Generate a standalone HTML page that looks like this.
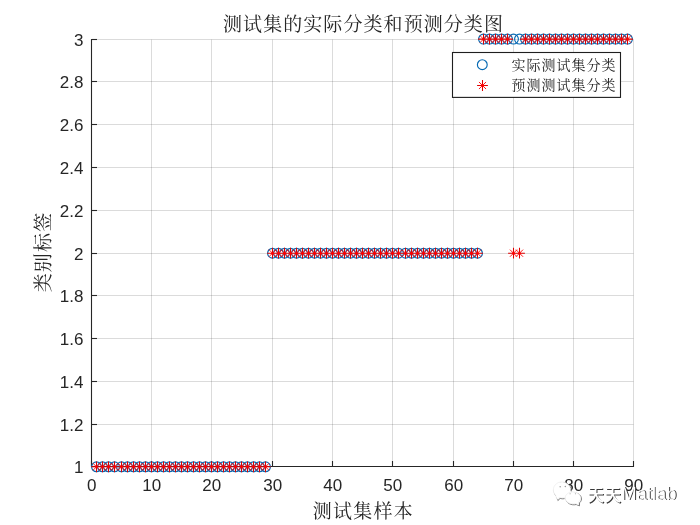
<!DOCTYPE html>
<html lang="zh"><head><meta charset="utf-8"><title>测试集的实际分类和预测分类图</title>
<style>
html,body{margin:0;padding:0;background:#fff;}
body{width:700px;height:525px;overflow:hidden;position:relative;}
svg{display:block;position:absolute;left:0;top:0;}
.cjk{font-family:"Liberation Serif","Noto Serif CJK SC",serif;fill:#262626;}
.num{font-family:"Liberation Sans","Noto Sans CJK SC",sans-serif;fill:#262626;font-size:17px;}
.wm{font-family:"Liberation Sans","Noto Sans CJK SC",sans-serif;font-size:17.1px;fill:#fff;}
</style></head><body>
<svg width="700" height="525" viewBox="0 0 700 525">
<rect width="700" height="525" fill="#fff"/>
<g stroke="#262626" stroke-opacity="0.165" stroke-width="1" fill="none">
<line x1="91.50" y1="39.5" x2="91.50" y2="466.5"/>
<line x1="151.50" y1="39.5" x2="151.50" y2="466.5"/>
<line x1="211.50" y1="39.5" x2="211.50" y2="466.5"/>
<line x1="272.50" y1="39.5" x2="272.50" y2="466.5"/>
<line x1="332.50" y1="39.5" x2="332.50" y2="466.5"/>
<line x1="392.50" y1="39.5" x2="392.50" y2="466.5"/>
<line x1="453.50" y1="39.5" x2="453.50" y2="466.5"/>
<line x1="513.50" y1="39.5" x2="513.50" y2="466.5"/>
<line x1="573.50" y1="39.5" x2="573.50" y2="466.5"/>
<line x1="633.50" y1="39.5" x2="633.50" y2="466.5"/>
<line x1="91.5" y1="466.50" x2="633.5" y2="466.50"/>
<line x1="91.5" y1="424.50" x2="633.5" y2="424.50"/>
<line x1="91.5" y1="381.50" x2="633.5" y2="381.50"/>
<line x1="91.5" y1="338.50" x2="633.5" y2="338.50"/>
<line x1="91.5" y1="295.50" x2="633.5" y2="295.50"/>
<line x1="91.5" y1="253.50" x2="633.5" y2="253.50"/>
<line x1="91.5" y1="210.50" x2="633.5" y2="210.50"/>
<line x1="91.5" y1="167.50" x2="633.5" y2="167.50"/>
<line x1="91.5" y1="124.50" x2="633.5" y2="124.50"/>
<line x1="91.5" y1="81.50" x2="633.5" y2="81.50"/>
<line x1="91.5" y1="39.50" x2="633.5" y2="39.50"/>
</g>
<g stroke="#262626" stroke-width="1.1" fill="none">
<line x1="91.5" y1="38.95" x2="91.5" y2="467.05"/>
<line x1="91.5" y1="466.5" x2="634.05" y2="466.5"/>
<line x1="91.50" y1="466.5" x2="91.50" y2="461.0"/>
<line x1="151.50" y1="466.5" x2="151.50" y2="461.0"/>
<line x1="211.50" y1="466.5" x2="211.50" y2="461.0"/>
<line x1="272.50" y1="466.5" x2="272.50" y2="461.0"/>
<line x1="332.50" y1="466.5" x2="332.50" y2="461.0"/>
<line x1="392.50" y1="466.5" x2="392.50" y2="461.0"/>
<line x1="453.50" y1="466.5" x2="453.50" y2="461.0"/>
<line x1="513.50" y1="466.5" x2="513.50" y2="461.0"/>
<line x1="573.50" y1="466.5" x2="573.50" y2="461.0"/>
<line x1="633.50" y1="466.5" x2="633.50" y2="461.0"/>
<line x1="91.5" y1="466.50" x2="97.0" y2="466.50"/>
<line x1="91.5" y1="424.50" x2="97.0" y2="424.50"/>
<line x1="91.5" y1="381.50" x2="97.0" y2="381.50"/>
<line x1="91.5" y1="338.50" x2="97.0" y2="338.50"/>
<line x1="91.5" y1="295.50" x2="97.0" y2="295.50"/>
<line x1="91.5" y1="253.50" x2="97.0" y2="253.50"/>
<line x1="91.5" y1="210.50" x2="97.0" y2="210.50"/>
<line x1="91.5" y1="167.50" x2="97.0" y2="167.50"/>
<line x1="91.5" y1="124.50" x2="97.0" y2="124.50"/>
<line x1="91.5" y1="81.50" x2="97.0" y2="81.50"/>
<line x1="91.5" y1="39.50" x2="97.0" y2="39.50"/>
</g>
<g class="num" text-anchor="middle">
<text x="91.80" y="491.2">0</text>
<text x="151.80" y="491.2">10</text>
<text x="211.80" y="491.2">20</text>
<text x="272.80" y="491.2">30</text>
<text x="332.80" y="491.2">40</text>
<text x="392.80" y="491.2">50</text>
<text x="453.80" y="491.2">60</text>
<text x="513.80" y="491.2">70</text>
<text x="573.80" y="491.2">80</text>
<text x="633.80" y="491.2">90</text>
</g>
<g class="num" text-anchor="end">
<text x="83.4" y="472.80">1</text>
<text x="83.4" y="430.80">1.2</text>
<text x="83.4" y="387.80">1.4</text>
<text x="83.4" y="344.80">1.6</text>
<text x="83.4" y="301.80">1.8</text>
<text x="83.4" y="259.80">2</text>
<text x="83.4" y="216.80">2.2</text>
<text x="83.4" y="173.80">2.4</text>
<text x="83.4" y="130.80">2.6</text>
<text x="83.4" y="87.80">2.8</text>
<text x="83.4" y="45.80">3</text>
</g>
<g stroke="#0569b3" stroke-width="1.15" fill="none">
<circle cx="96.50" cy="466.80" r="4.9"/>
<circle cx="102.50" cy="466.80" r="4.9"/>
<circle cx="108.50" cy="466.80" r="4.9"/>
<circle cx="114.50" cy="466.80" r="4.9"/>
<circle cx="121.50" cy="466.80" r="4.9"/>
<circle cx="127.50" cy="466.80" r="4.9"/>
<circle cx="133.50" cy="466.80" r="4.9"/>
<circle cx="139.50" cy="466.80" r="4.9"/>
<circle cx="145.50" cy="466.80" r="4.9"/>
<circle cx="151.50" cy="466.80" r="4.9"/>
<circle cx="157.50" cy="466.80" r="4.9"/>
<circle cx="163.50" cy="466.80" r="4.9"/>
<circle cx="169.50" cy="466.80" r="4.9"/>
<circle cx="175.50" cy="466.80" r="4.9"/>
<circle cx="181.50" cy="466.80" r="4.9"/>
<circle cx="187.50" cy="466.80" r="4.9"/>
<circle cx="193.50" cy="466.80" r="4.9"/>
<circle cx="199.50" cy="466.80" r="4.9"/>
<circle cx="205.50" cy="466.80" r="4.9"/>
<circle cx="211.50" cy="466.80" r="4.9"/>
<circle cx="217.50" cy="466.80" r="4.9"/>
<circle cx="223.50" cy="466.80" r="4.9"/>
<circle cx="229.50" cy="466.80" r="4.9"/>
<circle cx="235.50" cy="466.80" r="4.9"/>
<circle cx="241.50" cy="466.80" r="4.9"/>
<circle cx="247.50" cy="466.80" r="4.9"/>
<circle cx="253.50" cy="466.80" r="4.9"/>
<circle cx="259.50" cy="466.80" r="4.9"/>
<circle cx="265.50" cy="466.80" r="4.9"/>
<circle cx="272.50" cy="253.20" r="4.9"/>
<circle cx="278.50" cy="253.20" r="4.9"/>
<circle cx="284.50" cy="253.20" r="4.9"/>
<circle cx="290.50" cy="253.20" r="4.9"/>
<circle cx="296.50" cy="253.20" r="4.9"/>
<circle cx="302.50" cy="253.20" r="4.9"/>
<circle cx="308.50" cy="253.20" r="4.9"/>
<circle cx="314.50" cy="253.20" r="4.9"/>
<circle cx="320.50" cy="253.20" r="4.9"/>
<circle cx="326.50" cy="253.20" r="4.9"/>
<circle cx="332.50" cy="253.20" r="4.9"/>
<circle cx="338.50" cy="253.20" r="4.9"/>
<circle cx="344.50" cy="253.20" r="4.9"/>
<circle cx="350.50" cy="253.20" r="4.9"/>
<circle cx="356.50" cy="253.20" r="4.9"/>
<circle cx="362.50" cy="253.20" r="4.9"/>
<circle cx="368.50" cy="253.20" r="4.9"/>
<circle cx="374.50" cy="253.20" r="4.9"/>
<circle cx="380.50" cy="253.20" r="4.9"/>
<circle cx="386.50" cy="253.20" r="4.9"/>
<circle cx="392.50" cy="253.20" r="4.9"/>
<circle cx="398.50" cy="253.20" r="4.9"/>
<circle cx="405.50" cy="253.20" r="4.9"/>
<circle cx="411.50" cy="253.20" r="4.9"/>
<circle cx="417.50" cy="253.20" r="4.9"/>
<circle cx="423.50" cy="253.20" r="4.9"/>
<circle cx="429.50" cy="253.20" r="4.9"/>
<circle cx="435.50" cy="253.20" r="4.9"/>
<circle cx="441.50" cy="253.20" r="4.9"/>
<circle cx="447.50" cy="253.20" r="4.9"/>
<circle cx="453.50" cy="253.20" r="4.9"/>
<circle cx="459.50" cy="253.20" r="4.9"/>
<circle cx="465.50" cy="253.20" r="4.9"/>
<circle cx="471.50" cy="253.20" r="4.9"/>
<circle cx="477.50" cy="253.20" r="4.9"/>
<circle cx="483.50" cy="39.10" r="4.9"/>
<circle cx="489.50" cy="39.10" r="4.9"/>
<circle cx="495.50" cy="39.10" r="4.9"/>
<circle cx="501.50" cy="39.10" r="4.9"/>
<circle cx="507.50" cy="39.10" r="4.9"/>
<circle cx="513.50" cy="39.10" r="4.9"/>
<circle cx="519.50" cy="39.10" r="4.9"/>
<circle cx="525.50" cy="39.10" r="4.9"/>
<circle cx="531.50" cy="39.10" r="4.9"/>
<circle cx="537.50" cy="39.10" r="4.9"/>
<circle cx="543.50" cy="39.10" r="4.9"/>
<circle cx="549.50" cy="39.10" r="4.9"/>
<circle cx="555.50" cy="39.10" r="4.9"/>
<circle cx="561.50" cy="39.10" r="4.9"/>
<circle cx="567.50" cy="39.10" r="4.9"/>
<circle cx="573.50" cy="39.10" r="4.9"/>
<circle cx="579.50" cy="39.10" r="4.9"/>
<circle cx="585.50" cy="39.10" r="4.9"/>
<circle cx="591.50" cy="39.10" r="4.9"/>
<circle cx="597.50" cy="39.10" r="4.9"/>
<circle cx="603.50" cy="39.10" r="4.9"/>
<circle cx="609.50" cy="39.10" r="4.9"/>
<circle cx="615.50" cy="39.10" r="4.9"/>
<circle cx="621.50" cy="39.10" r="4.9"/>
<circle cx="627.50" cy="39.10" r="4.9"/>
</g>
<path stroke="#e00000" stroke-width="1.05" fill="none" d="
M91.10 466.80H101.90M96.50 461.40V472.20
M97.10 466.80H107.90M102.50 461.40V472.20
M103.10 466.80H113.90M108.50 461.40V472.20
M109.10 466.80H119.90M114.50 461.40V472.20
M116.10 466.80H126.90M121.50 461.40V472.20
M122.10 466.80H132.90M127.50 461.40V472.20
M128.10 466.80H138.90M133.50 461.40V472.20
M134.10 466.80H144.90M139.50 461.40V472.20
M140.10 466.80H150.90M145.50 461.40V472.20
M146.10 466.80H156.90M151.50 461.40V472.20
M152.10 466.80H162.90M157.50 461.40V472.20
M158.10 466.80H168.90M163.50 461.40V472.20
M164.10 466.80H174.90M169.50 461.40V472.20
M170.10 466.80H180.90M175.50 461.40V472.20
M176.10 466.80H186.90M181.50 461.40V472.20
M182.10 466.80H192.90M187.50 461.40V472.20
M188.10 466.80H198.90M193.50 461.40V472.20
M194.10 466.80H204.90M199.50 461.40V472.20
M200.10 466.80H210.90M205.50 461.40V472.20
M206.10 466.80H216.90M211.50 461.40V472.20
M212.10 466.80H222.90M217.50 461.40V472.20
M218.10 466.80H228.90M223.50 461.40V472.20
M224.10 466.80H234.90M229.50 461.40V472.20
M230.10 466.80H240.90M235.50 461.40V472.20
M236.10 466.80H246.90M241.50 461.40V472.20
M242.10 466.80H252.90M247.50 461.40V472.20
M248.10 466.80H258.90M253.50 461.40V472.20
M254.10 466.80H264.90M259.50 461.40V472.20
M260.10 466.80H270.90M265.50 461.40V472.20
M267.10 253.20H277.90M272.50 247.80V258.60
M273.10 253.20H283.90M278.50 247.80V258.60
M279.10 253.20H289.90M284.50 247.80V258.60
M285.10 253.20H295.90M290.50 247.80V258.60
M291.10 253.20H301.90M296.50 247.80V258.60
M297.10 253.20H307.90M302.50 247.80V258.60
M303.10 253.20H313.90M308.50 247.80V258.60
M309.10 253.20H319.90M314.50 247.80V258.60
M315.10 253.20H325.90M320.50 247.80V258.60
M321.10 253.20H331.90M326.50 247.80V258.60
M327.10 253.20H337.90M332.50 247.80V258.60
M333.10 253.20H343.90M338.50 247.80V258.60
M339.10 253.20H349.90M344.50 247.80V258.60
M345.10 253.20H355.90M350.50 247.80V258.60
M351.10 253.20H361.90M356.50 247.80V258.60
M357.10 253.20H367.90M362.50 247.80V258.60
M363.10 253.20H373.90M368.50 247.80V258.60
M369.10 253.20H379.90M374.50 247.80V258.60
M375.10 253.20H385.90M380.50 247.80V258.60
M381.10 253.20H391.90M386.50 247.80V258.60
M387.10 253.20H397.90M392.50 247.80V258.60
M393.10 253.20H403.90M398.50 247.80V258.60
M400.10 253.20H410.90M405.50 247.80V258.60
M406.10 253.20H416.90M411.50 247.80V258.60
M412.10 253.20H422.90M417.50 247.80V258.60
M418.10 253.20H428.90M423.50 247.80V258.60
M424.10 253.20H434.90M429.50 247.80V258.60
M430.10 253.20H440.90M435.50 247.80V258.60
M436.10 253.20H446.90M441.50 247.80V258.60
M442.10 253.20H452.90M447.50 247.80V258.60
M448.10 253.20H458.90M453.50 247.80V258.60
M454.10 253.20H464.90M459.50 247.80V258.60
M460.10 253.20H470.90M465.50 247.80V258.60
M466.10 253.20H476.90M471.50 247.80V258.60
M472.10 253.20H482.90M477.50 247.80V258.60
M478.10 39.10H488.90M483.50 33.70V44.50
M484.10 39.10H494.90M489.50 33.70V44.50
M490.10 39.10H500.90M495.50 33.70V44.50
M496.10 39.10H506.90M501.50 33.70V44.50
M502.10 39.10H512.90M507.50 33.70V44.50
M508.10 253.20H518.90M513.50 247.80V258.60
M514.10 253.20H524.90M519.50 247.80V258.60
M520.10 39.10H530.90M525.50 33.70V44.50
M526.10 39.10H536.90M531.50 33.70V44.50
M532.10 39.10H542.90M537.50 33.70V44.50
M538.10 39.10H548.90M543.50 33.70V44.50
M544.10 39.10H554.90M549.50 33.70V44.50
M550.10 39.10H560.90M555.50 33.70V44.50
M556.10 39.10H566.90M561.50 33.70V44.50
M562.10 39.10H572.90M567.50 33.70V44.50
M568.10 39.10H578.90M573.50 33.70V44.50
M574.10 39.10H584.90M579.50 33.70V44.50
M580.10 39.10H590.90M585.50 33.70V44.50
M586.10 39.10H596.90M591.50 33.70V44.50
M592.10 39.10H602.90M597.50 33.70V44.50
M598.10 39.10H608.90M603.50 33.70V44.50
M604.10 39.10H614.90M609.50 33.70V44.50
M610.10 39.10H620.90M615.50 33.70V44.50
M616.10 39.10H626.90M621.50 33.70V44.50
M622.10 39.10H632.90M627.50 33.70V44.50
"/>
<path stroke="#ff0000" stroke-width="0.9" fill="none" d="
M92.94 463.24L100.06 470.36M92.94 470.36L100.06 463.24
M98.94 463.24L106.06 470.36M98.94 470.36L106.06 463.24
M104.94 463.24L112.06 470.36M104.94 470.36L112.06 463.24
M110.94 463.24L118.06 470.36M110.94 470.36L118.06 463.24
M117.94 463.24L125.06 470.36M117.94 470.36L125.06 463.24
M123.94 463.24L131.06 470.36M123.94 470.36L131.06 463.24
M129.94 463.24L137.06 470.36M129.94 470.36L137.06 463.24
M135.94 463.24L143.06 470.36M135.94 470.36L143.06 463.24
M141.94 463.24L149.06 470.36M141.94 470.36L149.06 463.24
M147.94 463.24L155.06 470.36M147.94 470.36L155.06 463.24
M153.94 463.24L161.06 470.36M153.94 470.36L161.06 463.24
M159.94 463.24L167.06 470.36M159.94 470.36L167.06 463.24
M165.94 463.24L173.06 470.36M165.94 470.36L173.06 463.24
M171.94 463.24L179.06 470.36M171.94 470.36L179.06 463.24
M177.94 463.24L185.06 470.36M177.94 470.36L185.06 463.24
M183.94 463.24L191.06 470.36M183.94 470.36L191.06 463.24
M189.94 463.24L197.06 470.36M189.94 470.36L197.06 463.24
M195.94 463.24L203.06 470.36M195.94 470.36L203.06 463.24
M201.94 463.24L209.06 470.36M201.94 470.36L209.06 463.24
M207.94 463.24L215.06 470.36M207.94 470.36L215.06 463.24
M213.94 463.24L221.06 470.36M213.94 470.36L221.06 463.24
M219.94 463.24L227.06 470.36M219.94 470.36L227.06 463.24
M225.94 463.24L233.06 470.36M225.94 470.36L233.06 463.24
M231.94 463.24L239.06 470.36M231.94 470.36L239.06 463.24
M237.94 463.24L245.06 470.36M237.94 470.36L245.06 463.24
M243.94 463.24L251.06 470.36M243.94 470.36L251.06 463.24
M249.94 463.24L257.06 470.36M249.94 470.36L257.06 463.24
M255.94 463.24L263.06 470.36M255.94 470.36L263.06 463.24
M261.94 463.24L269.06 470.36M261.94 470.36L269.06 463.24
M268.94 249.64L276.06 256.76M268.94 256.76L276.06 249.64
M274.94 249.64L282.06 256.76M274.94 256.76L282.06 249.64
M280.94 249.64L288.06 256.76M280.94 256.76L288.06 249.64
M286.94 249.64L294.06 256.76M286.94 256.76L294.06 249.64
M292.94 249.64L300.06 256.76M292.94 256.76L300.06 249.64
M298.94 249.64L306.06 256.76M298.94 256.76L306.06 249.64
M304.94 249.64L312.06 256.76M304.94 256.76L312.06 249.64
M310.94 249.64L318.06 256.76M310.94 256.76L318.06 249.64
M316.94 249.64L324.06 256.76M316.94 256.76L324.06 249.64
M322.94 249.64L330.06 256.76M322.94 256.76L330.06 249.64
M328.94 249.64L336.06 256.76M328.94 256.76L336.06 249.64
M334.94 249.64L342.06 256.76M334.94 256.76L342.06 249.64
M340.94 249.64L348.06 256.76M340.94 256.76L348.06 249.64
M346.94 249.64L354.06 256.76M346.94 256.76L354.06 249.64
M352.94 249.64L360.06 256.76M352.94 256.76L360.06 249.64
M358.94 249.64L366.06 256.76M358.94 256.76L366.06 249.64
M364.94 249.64L372.06 256.76M364.94 256.76L372.06 249.64
M370.94 249.64L378.06 256.76M370.94 256.76L378.06 249.64
M376.94 249.64L384.06 256.76M376.94 256.76L384.06 249.64
M382.94 249.64L390.06 256.76M382.94 256.76L390.06 249.64
M388.94 249.64L396.06 256.76M388.94 256.76L396.06 249.64
M394.94 249.64L402.06 256.76M394.94 256.76L402.06 249.64
M401.94 249.64L409.06 256.76M401.94 256.76L409.06 249.64
M407.94 249.64L415.06 256.76M407.94 256.76L415.06 249.64
M413.94 249.64L421.06 256.76M413.94 256.76L421.06 249.64
M419.94 249.64L427.06 256.76M419.94 256.76L427.06 249.64
M425.94 249.64L433.06 256.76M425.94 256.76L433.06 249.64
M431.94 249.64L439.06 256.76M431.94 256.76L439.06 249.64
M437.94 249.64L445.06 256.76M437.94 256.76L445.06 249.64
M443.94 249.64L451.06 256.76M443.94 256.76L451.06 249.64
M449.94 249.64L457.06 256.76M449.94 256.76L457.06 249.64
M455.94 249.64L463.06 256.76M455.94 256.76L463.06 249.64
M461.94 249.64L469.06 256.76M461.94 256.76L469.06 249.64
M467.94 249.64L475.06 256.76M467.94 256.76L475.06 249.64
M473.94 249.64L481.06 256.76M473.94 256.76L481.06 249.64
M479.94 35.54L487.06 42.66M479.94 42.66L487.06 35.54
M485.94 35.54L493.06 42.66M485.94 42.66L493.06 35.54
M491.94 35.54L499.06 42.66M491.94 42.66L499.06 35.54
M497.94 35.54L505.06 42.66M497.94 42.66L505.06 35.54
M503.94 35.54L511.06 42.66M503.94 42.66L511.06 35.54
M509.94 249.64L517.06 256.76M509.94 256.76L517.06 249.64
M515.94 249.64L523.06 256.76M515.94 256.76L523.06 249.64
M521.94 35.54L529.06 42.66M521.94 42.66L529.06 35.54
M527.94 35.54L535.06 42.66M527.94 42.66L535.06 35.54
M533.94 35.54L541.06 42.66M533.94 42.66L541.06 35.54
M539.94 35.54L547.06 42.66M539.94 42.66L547.06 35.54
M545.94 35.54L553.06 42.66M545.94 42.66L553.06 35.54
M551.94 35.54L559.06 42.66M551.94 42.66L559.06 35.54
M557.94 35.54L565.06 42.66M557.94 42.66L565.06 35.54
M563.94 35.54L571.06 42.66M563.94 42.66L571.06 35.54
M569.94 35.54L577.06 42.66M569.94 42.66L577.06 35.54
M575.94 35.54L583.06 42.66M575.94 42.66L583.06 35.54
M581.94 35.54L589.06 42.66M581.94 42.66L589.06 35.54
M587.94 35.54L595.06 42.66M587.94 42.66L595.06 35.54
M593.94 35.54L601.06 42.66M593.94 42.66L601.06 35.54
M599.94 35.54L607.06 42.66M599.94 42.66L607.06 35.54
M605.94 35.54L613.06 42.66M605.94 42.66L613.06 35.54
M611.94 35.54L619.06 42.66M611.94 42.66L619.06 35.54
M617.94 35.54L625.06 42.66M617.94 42.66L625.06 35.54
M623.94 35.54L631.06 42.66M623.94 42.66L631.06 35.54
"/>
<g fill="#ff0000">
<circle cx="96.50" cy="466.80" r="1.3"/>
<circle cx="102.50" cy="466.80" r="1.3"/>
<circle cx="108.50" cy="466.80" r="1.3"/>
<circle cx="114.50" cy="466.80" r="1.3"/>
<circle cx="121.50" cy="466.80" r="1.3"/>
<circle cx="127.50" cy="466.80" r="1.3"/>
<circle cx="133.50" cy="466.80" r="1.3"/>
<circle cx="139.50" cy="466.80" r="1.3"/>
<circle cx="145.50" cy="466.80" r="1.3"/>
<circle cx="151.50" cy="466.80" r="1.3"/>
<circle cx="157.50" cy="466.80" r="1.3"/>
<circle cx="163.50" cy="466.80" r="1.3"/>
<circle cx="169.50" cy="466.80" r="1.3"/>
<circle cx="175.50" cy="466.80" r="1.3"/>
<circle cx="181.50" cy="466.80" r="1.3"/>
<circle cx="187.50" cy="466.80" r="1.3"/>
<circle cx="193.50" cy="466.80" r="1.3"/>
<circle cx="199.50" cy="466.80" r="1.3"/>
<circle cx="205.50" cy="466.80" r="1.3"/>
<circle cx="211.50" cy="466.80" r="1.3"/>
<circle cx="217.50" cy="466.80" r="1.3"/>
<circle cx="223.50" cy="466.80" r="1.3"/>
<circle cx="229.50" cy="466.80" r="1.3"/>
<circle cx="235.50" cy="466.80" r="1.3"/>
<circle cx="241.50" cy="466.80" r="1.3"/>
<circle cx="247.50" cy="466.80" r="1.3"/>
<circle cx="253.50" cy="466.80" r="1.3"/>
<circle cx="259.50" cy="466.80" r="1.3"/>
<circle cx="265.50" cy="466.80" r="1.3"/>
<circle cx="272.50" cy="253.20" r="1.3"/>
<circle cx="278.50" cy="253.20" r="1.3"/>
<circle cx="284.50" cy="253.20" r="1.3"/>
<circle cx="290.50" cy="253.20" r="1.3"/>
<circle cx="296.50" cy="253.20" r="1.3"/>
<circle cx="302.50" cy="253.20" r="1.3"/>
<circle cx="308.50" cy="253.20" r="1.3"/>
<circle cx="314.50" cy="253.20" r="1.3"/>
<circle cx="320.50" cy="253.20" r="1.3"/>
<circle cx="326.50" cy="253.20" r="1.3"/>
<circle cx="332.50" cy="253.20" r="1.3"/>
<circle cx="338.50" cy="253.20" r="1.3"/>
<circle cx="344.50" cy="253.20" r="1.3"/>
<circle cx="350.50" cy="253.20" r="1.3"/>
<circle cx="356.50" cy="253.20" r="1.3"/>
<circle cx="362.50" cy="253.20" r="1.3"/>
<circle cx="368.50" cy="253.20" r="1.3"/>
<circle cx="374.50" cy="253.20" r="1.3"/>
<circle cx="380.50" cy="253.20" r="1.3"/>
<circle cx="386.50" cy="253.20" r="1.3"/>
<circle cx="392.50" cy="253.20" r="1.3"/>
<circle cx="398.50" cy="253.20" r="1.3"/>
<circle cx="405.50" cy="253.20" r="1.3"/>
<circle cx="411.50" cy="253.20" r="1.3"/>
<circle cx="417.50" cy="253.20" r="1.3"/>
<circle cx="423.50" cy="253.20" r="1.3"/>
<circle cx="429.50" cy="253.20" r="1.3"/>
<circle cx="435.50" cy="253.20" r="1.3"/>
<circle cx="441.50" cy="253.20" r="1.3"/>
<circle cx="447.50" cy="253.20" r="1.3"/>
<circle cx="453.50" cy="253.20" r="1.3"/>
<circle cx="459.50" cy="253.20" r="1.3"/>
<circle cx="465.50" cy="253.20" r="1.3"/>
<circle cx="471.50" cy="253.20" r="1.3"/>
<circle cx="477.50" cy="253.20" r="1.3"/>
<circle cx="483.50" cy="39.10" r="1.3"/>
<circle cx="489.50" cy="39.10" r="1.3"/>
<circle cx="495.50" cy="39.10" r="1.3"/>
<circle cx="501.50" cy="39.10" r="1.3"/>
<circle cx="507.50" cy="39.10" r="1.3"/>
<circle cx="513.50" cy="253.20" r="1.3"/>
<circle cx="519.50" cy="253.20" r="1.3"/>
<circle cx="525.50" cy="39.10" r="1.3"/>
<circle cx="531.50" cy="39.10" r="1.3"/>
<circle cx="537.50" cy="39.10" r="1.3"/>
<circle cx="543.50" cy="39.10" r="1.3"/>
<circle cx="549.50" cy="39.10" r="1.3"/>
<circle cx="555.50" cy="39.10" r="1.3"/>
<circle cx="561.50" cy="39.10" r="1.3"/>
<circle cx="567.50" cy="39.10" r="1.3"/>
<circle cx="573.50" cy="39.10" r="1.3"/>
<circle cx="579.50" cy="39.10" r="1.3"/>
<circle cx="585.50" cy="39.10" r="1.3"/>
<circle cx="591.50" cy="39.10" r="1.3"/>
<circle cx="597.50" cy="39.10" r="1.3"/>
<circle cx="603.50" cy="39.10" r="1.3"/>
<circle cx="609.50" cy="39.10" r="1.3"/>
<circle cx="615.50" cy="39.10" r="1.3"/>
<circle cx="621.50" cy="39.10" r="1.3"/>
<circle cx="627.50" cy="39.10" r="1.3"/>
</g>
<rect x="452.5" y="52.5" width="168" height="44.9" fill="#fff" stroke="#1f1f1f" stroke-width="1.1"/>
<circle cx="482.3" cy="64.7" r="4.9" stroke="#0569b3" stroke-width="1.15" fill="none"/>
<path stroke="#e00000" stroke-width="1.05" fill="none" d="M477.10 85.50H487.90M482.50 80.10V90.90"/>
<path stroke="#ff0000" stroke-width="0.9" fill="none" d="M478.94 81.94L486.06 89.06M478.94 89.06L486.06 81.94"/>
<circle cx="482.5" cy="85.5" r="1.3" fill="#ff0000"/>
<text class="cjk" font-size="14" letter-spacing="1" x="511.6" y="69.9">实际测试集分类</text>
<text class="cjk" font-size="14" letter-spacing="1" x="511.6" y="90.4">预测测试集分类</text>
<text class="cjk" font-size="19" letter-spacing="1.07" text-anchor="middle" x="363.5" y="31.4">测试集的实际分类和预测分类图</text>
<text class="cjk" font-size="19" letter-spacing="1.25" text-anchor="middle" x="363.5" y="517.5">测试集样本</text>
<text class="cjk" font-size="19" letter-spacing="1.15" text-anchor="middle" transform="translate(50.1,252.0) rotate(-90)">类别标签</text>
<defs><filter id="b" x="-10%" y="-10%" width="120%" height="120%"><feGaussianBlur stdDeviation="0.35"/></filter></defs>
<g id="wm">
<g>
<path d="M555.51 495.25A8.6 8.0 0 1 1 559.24 497.51L557.00 499.60Z" transform="translate(0.9,0.9)" fill="none" stroke="#6a6a6a" stroke-width="0.9" filter="url(#b)"/>
<path d="M555.51 495.25A8.6 8.0 0 1 1 559.24 497.51L557.00 499.60Z" fill="#fff" stroke="#e4e4e4" stroke-width="0.5"/>
<path d="M575.28 503.61A7.7 6.0 0 1 1 578.62 501.91L578.60 504.90Z" fill="#fff" stroke="#fff" stroke-width="1.2"/>
<path d="M575.28 503.61A7.7 6.0 0 1 1 578.62 501.91L578.60 504.90Z" transform="translate(0.9,0.9)" fill="none" stroke="#6a6a6a" stroke-width="0.9" filter="url(#b)"/>
<path d="M575.28 503.61A7.7 6.0 0 1 1 578.62 501.91L578.60 504.90Z" fill="#fff" stroke="#e4e4e4" stroke-width="0.5"/>
<g fill="#9a9a9a"><circle cx="560.2" cy="486.8" r="0.75"/><circle cx="565.3" cy="486.6" r="0.75"/><circle cx="570.1" cy="493.8" r="0.55"/><circle cx="575.4" cy="493.8" r="0.55"/></g>
</g>
<text class="wm" x="588.5" y="501.5" style="fill:#383838" filter="url(#b)"><tspan font-size="16.5" letter-spacing="0.6" font-weight="500">天天</tspan><tspan x="622.2" y="500.4" font-size="18.4">Matlab</tspan></text>
<text class="wm" x="587.5" y="500.5"><tspan font-size="16.5" letter-spacing="0.6" font-weight="500">天天</tspan><tspan x="621.3" y="499.5" font-size="18.4">Matlab</tspan></text>
</g>
</svg></body></html>
